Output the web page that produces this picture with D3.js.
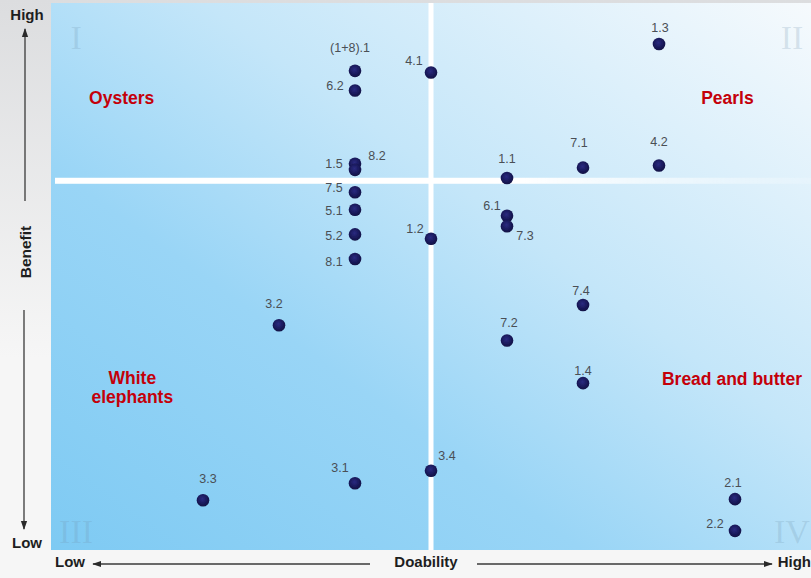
<!DOCTYPE html>
<html>
<head>
<meta charset="utf-8">
<script src="https://cdn.jsdelivr.net/npm/d3@7/dist/d3.min.js"></script>
<style>
  html, body { margin: 0; padding: 0; background: #f5f5f5; }
  svg { display: block; }
</style>
</head>
<body>
<div id="chart"></div>
<script>
// Project items plotted by doability (x) and benefit (y)
const ids = ["1.3", "(1+8).1", "6.2", "4.1", "1.5", "8.2", "7.1", "4.2", "1.1", "7.5",
             "5.1", "6.1", "7.3", "5.2", "1.2", "8.1", "7.4", "3.2", "7.2", "1.4",
             "3.4", "3.1", "3.3", "2.1", "2.2"];
const doability = [8, 4, 4, 5, 4, 4, 7, 8, 6, 4,
                   4, 6, 6, 4, 5, 4, 7, 3, 6, 7,
                   5, 4, 2, 9, 9];
const benefit = [9.25, 8.76, 8.40, 8.73, 7.06, 6.95, 6.99, 7.03, 6.80, 6.54,
                 6.22, 6.11, 5.92, 5.77, 5.69, 5.32, 4.48, 4.11, 3.83, 3.05,
                 1.45, 1.22, 0.91, 0.93, 0.35];

// Where each item's label sits relative to its dot (dx, baseline dy) in px
const labelOffsets = [[1, -12], [-5, -19], [-20, -1], [-17, -7], [-21, 4], [22, -10], [-4, -21], [0, -19], [0, -15], [-21, 0],
                      [-21, 5], [-15, -6], [18, 14], [-21, 6], [-16, -6], [-21, 7], [-2, -10], [-5, -17], [2, -13], [0, -8],
                      [16, -11], [-15, -11], [5, -17], [-2, -12], [-20, -3]];

// Split points between quadrants
const splitDoability = 5;
const splitBenefit = 6.75;

// Quadrant names and numerals
const quadrantNames = [
  { lines: ["Oysters"], x: 0.93, y: 8.15 },
  { lines: ["Pearls"], x: 8.9, y: 8.15 },
  { lines: ["White", "elephants"], x: 1.07, y: 3.04 },
  { lines: ["Bread and butter"], x: 8.96, y: 3.01 }
];
const numerals = [
  { t: "I", x: 0.33, y: 9.6 },
  { t: "II", x: 9.75, y: 9.6 },
  { t: "III", x: 0.33, y: 0.1 },
  { t: "IV", x: 9.75, y: 0.1 }
];

const W = 811, H = 578;
const plot = { left: 51, right: 811, top: 3, bottom: 550 };

const x = d3.scaleLinear().domain([0, 10]).range([plot.left, plot.right]);
const y = d3.scaleLinear().domain([0, 10]).range([plot.bottom, plot.top]);

const svg = d3.select("#chart").append("svg")
  .attr("width", W).attr("height", H);

const defs = svg.append("defs");

// page backdrop: grey at the top fading to near white
const pageGrad = defs.append("linearGradient").attr("id", "pageGrad")
  .attr("x1", 0).attr("y1", 0).attr("x2", 0).attr("y2", 1);
pageGrad.append("stop").attr("offset", "0").attr("stop-color", "#dcdddf");
pageGrad.append("stop").attr("offset", "0.62").attr("stop-color", "#f6f6f6");
pageGrad.append("stop").attr("offset", "1").attr("stop-color", "#f6f6f6");

// plot area: saturated blue at lower left to almost white at upper right
const plotGrad = defs.append("linearGradient").attr("id", "plotGrad")
  .attr("x1", 0).attr("y1", 1).attr("x2", 1).attr("y2", 0);
plotGrad.append("stop").attr("offset", "0").attr("stop-color", "#7ecaf3");
plotGrad.append("stop").attr("offset", "0.35").attr("stop-color", "#99d5f6");
plotGrad.append("stop").attr("offset", "0.6").attr("stop-color", "#c4e6f9");
plotGrad.append("stop").attr("offset", "1").attr("stop-color", "#f6fafd");

const hGrad = defs.append("linearGradient").attr("id", "hGrad")
  .attr("x1", 0).attr("y1", 0).attr("x2", 1).attr("y2", 0);
hGrad.append("stop").attr("offset", "0").attr("stop-color", "#fff").attr("stop-opacity", 1);
hGrad.append("stop").attr("offset", "0.62").attr("stop-color", "#fff").attr("stop-opacity", 1);
hGrad.append("stop").attr("offset", "1").attr("stop-color", "#fff").attr("stop-opacity", 0.15);

const dotGrad = defs.append("radialGradient").attr("id", "dotGrad")
  .attr("cx", "45%").attr("cy", "40%").attr("r", "60%");
dotGrad.append("stop").attr("offset", "0").attr("stop-color", "#2a2a80");
dotGrad.append("stop").attr("offset", "1").attr("stop-color", "#101044");

const soft = defs.append("filter").attr("id", "soft")
  .attr("x", "-50%").attr("y", "-50%").attr("width", "200%").attr("height", "200%");
soft.append("feGaussianBlur").attr("stdDeviation", 0.6);

const arrow = defs.append("marker").attr("id", "arrow")
  .attr("viewBox", "0 0 10 10").attr("refX", 9).attr("refY", 5)
  .attr("markerWidth", 9).attr("markerHeight", 9)
  .attr("markerUnits", "userSpaceOnUse").attr("orient", "auto");
arrow.append("path").attr("d", "M0,1.5 L10,5 L0,8.5 Z").attr("fill", "#2a2a2a");

svg.append("rect").attr("width", W).attr("height", H).attr("fill", "url(#pageGrad)");

svg.append("rect")
  .attr("x", x(0)).attr("y", y(10))
  .attr("width", x(10) - x(0)).attr("height", y(0) - y(10))
  .attr("fill", "url(#plotGrad)");

// quadrant numerals
svg.append("g").selectAll("text").data(numerals).join("text")
  .attr("x", d => x(d.x)).attr("y", d => y(d.y))
  .attr("text-anchor", "middle")
  .attr("dy", d => d.y > 5 ? "0.72em" : "-0.05em")
  .attr("font-family", "Liberation Serif, serif")
  .attr("font-size", 34)
  .attr("fill", "#6f93ad").attr("fill-opacity", 0.22)
  .text(d => d.t);

// divider lines
svg.append("rect")
  .attr("x", x(0) + 4).attr("y", y(splitBenefit) - 3)
  .attr("width", x(10) - x(0) - 4).attr("height", 6)
  .attr("fill", "url(#hGrad)").attr("filter", "url(#soft)");
svg.append("rect")
  .attr("x", x(splitDoability) - 2.5).attr("y", y(10))
  .attr("width", 5).attr("height", y(0) - y(10))
  .attr("fill", "#fff").attr("filter", "url(#soft)");

// quadrant names
const qn = svg.append("g").selectAll("text").data(quadrantNames).join("text")
  .attr("x", d => x(d.x)).attr("y", d => y(d.y))
  .attr("text-anchor", "middle")
  .attr("font-family", "Liberation Sans, Arial, sans-serif")
  .attr("font-weight", "bold").attr("font-size", 17.5)
  .attr("fill", "#c4000a");
qn.selectAll("tspan").data(d => d.lines.map((t, i) => ({ t, i, d }))).join("tspan")
  .attr("x", o => x(o.d.x)).attr("dy", o => o.i === 0 ? 0 : 19)
  .text(o => o.t);

// items
const items = ids.map((id, i) => ({ id, dx: doability[i], b: benefit[i], off: labelOffsets[i] }));

svg.append("g").selectAll("circle").data(items).join("circle")
  .attr("cx", d => x(d.dx)).attr("cy", d => y(d.b)).attr("r", 6.3)
  .attr("fill", "url(#dotGrad)").attr("filter", "url(#soft)");

svg.append("g").selectAll("text").data(items).join("text")
  .attr("x", d => x(d.dx) + d.off[0]).attr("y", d => y(d.b) + d.off[1])
  .attr("text-anchor", "middle")
  .attr("font-family", "Liberation Sans, Arial, sans-serif")
  .attr("font-size", 12.5).attr("fill", "#4a4f55")
  .text(d => d.id);

// axis captions and arrows
const cap = { "font-family": "Liberation Sans, Arial, sans-serif", "font-weight": "bold", "font-size": 15, "fill": "#1e1e1e" };
function caption(t, px, py, anchor, rot) {
  const el = svg.append("text").attr("x", px).attr("y", py).attr("text-anchor", anchor).text(t);
  Object.entries(cap).forEach(([k, v]) => el.attr(k, v));
  if (rot) el.attr("transform", `rotate(${rot},${px},${py})`);
  return el;
}
caption("High", 27, 20, "middle");
caption("Benefit", 31, 252, "middle", -90).attr("font-size", 15.5);
caption("Low", 27, 548, "middle");
caption("Low", 55, 567, "start");
caption("Doability", 426, 567, "middle");
caption("High", 811, 567, "end");

const axLine = (x1, y1, x2, y2) => svg.append("line")
  .attr("x1", x1).attr("y1", y1).attr("x2", x2).attr("y2", y2)
  .attr("stroke", "#3a3a3a").attr("stroke-width", 1.3)
  .attr("marker-end", "url(#arrow)");
axLine(25, 201, 25, 29);
axLine(24, 310, 24, 529);
axLine(370, 564, 93, 564);
axLine(477, 564, 772, 564);
</script>
</body>
</html>
